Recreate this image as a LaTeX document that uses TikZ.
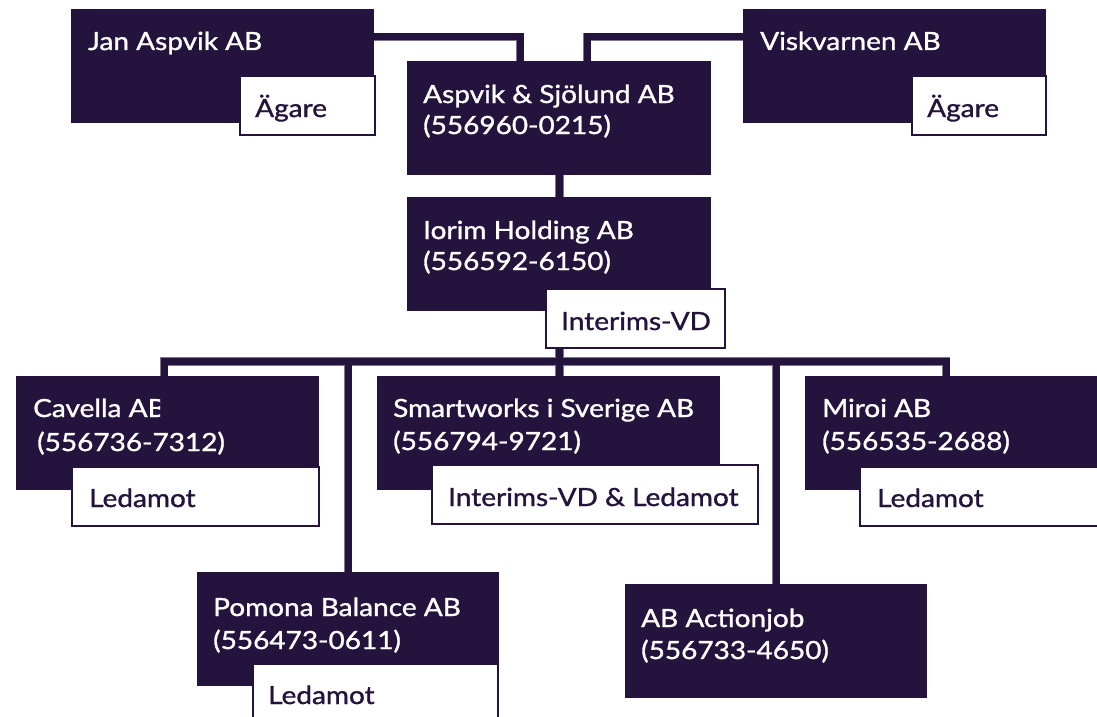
\documentclass[tikz,border=0pt]{standalone}
\usepackage{fontspec}
\setmainfont{Lato}[FakeStretch=1.12, FakeBold=1.2]
\usetikzlibrary{calc}
\definecolor{ink}{RGB}{36,20,61}
\definecolor{inkedge}{RGB}{128,116,142}
\pgfdeclarelayer{bg}
\pgfsetlayers{bg,main}
\tikzset{
  box/.style={fill=ink, draw=none, anchor=north west, inner sep=0pt,
    minimum width=#1, minimum height=114},
  box/.default=303,
  lab/.style={fill=white, draw=ink, line width=2pt, anchor=north west, inner sep=0pt,
    minimum width=#1, minimum height=59},
  wtxt/.style={text=white, anchor=base west, inner sep=0pt,
    font=\fontsize{25}{30}\selectfont},
  dtxt/.style={text=ink, anchor=base west, inner sep=0pt,
    font=\fontsize{25}{30}\selectfont},
  connedge/.style={draw=inkedge, line width=8.6pt, line join=miter},
  conncore/.style={draw=ink, line width=7pt, line join=miter},
}
\newcommand\connpaths[1]{%
  \draw[#1] ($(jan.north east)+(0,28)$) -| ($(asp.north west)+(113,0)$);
  \draw[#1] ($(visk.north west)+(0,28)$) -| ($(asp.north west)+(180,0)$);
  \draw[#1] (asp.south) -- (ior.north);
  \draw[#1] (ior.south) -- (bus);
  \draw[#1] (bus) -| ($(cav.north west)+(148,0)$);
  \draw[#1] (bus) -| ($(pom.north west)+(151,0)$);
  \draw[#1] (bus) -- (bus |- sma.north);
  \draw[#1] (bus) -| ($(act.north west)+(151,0)$);
  \draw[#1] (bus) -| ($(mir.north west)+(141,0)$);
}
\begin{document}
\begin{tikzpicture}[x=1pt,y=-1pt]
\useasboundingbox (0,0) rectangle (1097,717);
\clip (0,0) rectangle (1097,717);

% company boxes
\node[box] (jan) at (71,9) {};
\node[box] (visk) at (743,9) {};
\node[box=304] (asp) at (407,61) {};
\node[box=304] (ior) at (407,197) {};
\node[box] (cav) at (16,376) {};
\node[box=343] (sma) at (377,376) {};
\node[box] (mir) at (805,376) {};
\node[box=302] (pom) at (197,572) {};
\node[box=302] (act) at (625,584) {};

\coordinate (bus) at ($(ior.south)+(0,50)$);

% texts in boxes
\node[wtxt] (janT) at ($(jan.north west)+(17,41)$) {Jan Aspvik AB};
\node[wtxt] (viskT) at ($(visk.north west)+(17,41)$) {Viskvarnen AB};
\node[wtxt] (aspT1) at ($(asp.north west)+(16,42)$) {Aspvik \& Sjölund AB};
\node[wtxt] (aspT2) at ($(asp.north west)+(16,73)$) {(556960-0215)};
\node[wtxt] (iorT1) at ($(ior.north west)+(16,42)$) {Iorim Holding AB};
\node[wtxt] (iorT2) at ($(ior.north west)+(16,73)$) {(556592-6150)};
\begin{scope}
  \clip (cav.north west) rectangle ($(cav.south west)+(144,0)$);
  \node[wtxt] (cavT1) at ($(cav.north west)+(17,41)$) {Cavella AB};
\end{scope}
\node[wtxt] (cavT2) at ($(cav.north west)+(21,75)$) {(556736-7312)};
\node[wtxt] (smaT1) at ($(sma.north west)+(16,41)$) {Smartworks i Sverige AB};
\node[wtxt] (smaT2) at ($(sma.north west)+(16,74)$) {(556794-9721)};
\node[wtxt] (mirT1) at ($(mir.north west)+(17,41)$) {Miroi AB};
\node[wtxt] (mirT2) at ($(mir.north west)+(17,74)$) {(556535-2688)};
\node[wtxt] (pomT1) at ($(pom.north west)+(16,44)$) {Pomona Balance AB};
\node[wtxt] (pomT2) at ($(pom.north west)+(16,77)$) {(556473-0611)};
\node[wtxt] (actT1) at ($(act.north west)+(16,43)$) {AB Actionjob};
\node[wtxt] (actT2) at ($(act.north west)+(16,75)$) {(556733-4650)};

% role labels
\node[lab=135] (janL) at (239,75) {};
\node[lab=134] (viskL) at (911,75) {};
\node[lab=179] (iorL) at (545,288) {};
\node[lab=247] (cavL) at (71,466) {};
\node[lab=326] (smaL) at (431,464) {};
\node[lab=260] (mirL) at (859,466) {};
\node[lab=245] (pomL) at (252,663) {};

\node[dtxt] (janLT) at ($(janL.north west)+(16,42)$) {Ägare};
\node[dtxt] (viskLT) at ($(viskL.north west)+(16,42)$) {Ägare};
\node[dtxt] (iorLT) at ($(iorL.north west)+(16,42)$) {Interims-VD};
\node[dtxt] (cavLT) at ($(cavL.north west)+(18,41)$) {Ledamot};
\node[dtxt] (smaLT) at ($(smaL.north west)+(17,42)$) {Interims-VD \& Ledamot};
\node[dtxt] (mirLT) at ($(mirL.north west)+(18,41)$) {Ledamot};
\node[dtxt] (pomLT) at ($(pomL.north west)+(16,41)$) {Ledamot};

\begin{pgfonlayer}{bg}
  \connpaths{connedge}
  \connpaths{conncore}
\end{pgfonlayer}
\end{tikzpicture}
\end{document}
